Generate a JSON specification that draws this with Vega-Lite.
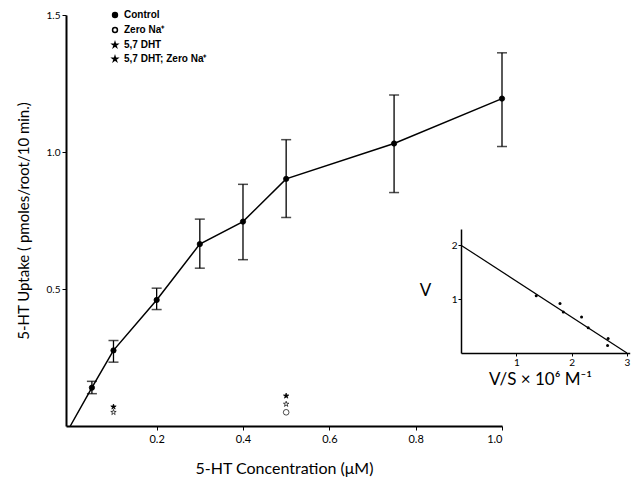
{
  "$schema": "https://vega.github.io/schema/vega-lite/v6.json",
  "width": 569,
  "height": 411,
  "autosize": {"type": "none"},
  "padding": {"left": 66, "top": 15, "right": 0, "bottom": 55},
  "background": "white",
  "config": {
    "view": {"stroke": null},
    "font": "Lato",
    "axis": {"labelFont": "Lato", "titleFont": "Lato", "domainColor": "black", "tickColor": "black", "labelColor": "black", "titleColor": "black", "grid": false, "titleFontWeight": "normal"}
  },
  "datasets": {
    "control": [
      {"conc": 0, "uptake": 0, "lo": null, "hi": null, "group": "Control"},
      {"conc": 0.05, "uptake": 0.14, "lo": 0.118, "hi": 0.163, "group": "Control"},
      {"conc": 0.1, "uptake": 0.276, "lo": 0.233, "hi": 0.312, "group": "Control"},
      {"conc": 0.2, "uptake": 0.46, "lo": 0.425, "hi": 0.503, "group": "Control"},
      {"conc": 0.3, "uptake": 0.664, "lo": 0.576, "hi": 0.755, "group": "Control"},
      {"conc": 0.4, "uptake": 0.746, "lo": 0.607, "hi": 0.882, "group": "Control"},
      {"conc": 0.5, "uptake": 0.902, "lo": 0.761, "hi": 1.045, "group": "Control"},
      {"conc": 0.75, "uptake": 1.031, "lo": 0.852, "hi": 1.208, "group": "Control"},
      {"conc": 1.0, "uptake": 1.195, "lo": 1.02, "hi": 1.362, "group": "Control"}
    ],
    "others": [
      {"conc": 0.1, "uptake": 0.07, "group": "5,7 DHT"},
      {"conc": 0.1, "uptake": 0.05, "group": "5,7 DHT; Zero Na⁺"},
      {"conc": 0.5, "uptake": 0.11, "group": "5,7 DHT"},
      {"conc": 0.5, "uptake": 0.08, "group": "5,7 DHT; Zero Na⁺"},
      {"conc": 0.5, "uptake": 0.05, "group": "Zero Na⁺"}
    ],
    "inset_pts": [
      {"vs": 1.36, "v": 1.06},
      {"vs": 1.79, "v": 0.92},
      {"vs": 1.85, "v": 0.76},
      {"vs": 2.18, "v": 0.67},
      {"vs": 2.3, "v": 0.47},
      {"vs": 2.66, "v": 0.27},
      {"vs": 2.65, "v": 0.14}
    ],
    "inset_fit": [
      {"vs": 0, "v": 2},
      {"vs": 3, "v": 0}
    ]
  },
  "layer": [
    {
      "layer": [
        {
          "data": {"name": "control"},
          "mark": {"type": "line", "color": "black", "strokeWidth": 1.5},
          "encoding": {
            "x": {"field": "conc", "type": "quantitative",
              "scale": {"domain": [-0.01, 1.0], "range": [0, 436], "nice": false, "zero": false},
              "axis": {"values": [0.2, 0.4, 0.6, 0.8, 1.0], "format": ".1f", "tickSize": 4, "labelFontSize": 11, "labelPadding": 3, "domainWidth": 2, "title": "5-HT Concentration (μM)", "titleFontSize": 16, "titlePadding": 16}},
            "y": {"field": "uptake", "type": "quantitative",
              "scale": {"domain": [0, 1.5], "nice": false},
              "axis": {"values": [0.5, 1.0, 1.5], "format": ".1f", "tickSize": 4, "labelFontSize": 10, "labelPadding": 2, "domainWidth": 2, "title": "5-HT Uptake ( pmoles/root/10 min.)", "titleFontSize": 15, "titlePadding": 15}}
          }
        },
        {
          "data": {"name": "control"},
          "transform": [{"filter": "isValid(datum.lo)"}],
          "mark": {"type": "rule", "color": "black", "strokeWidth": 1.3},
          "encoding": {
            "x": {"field": "conc", "type": "quantitative"},
            "y": {"field": "lo", "type": "quantitative"},
            "y2": {"field": "hi"}
          }
        },
        {
          "data": {"name": "control"},
          "transform": [{"filter": "isValid(datum.lo)"}],
          "mark": {"type": "tick", "orient": "horizontal", "color": "black", "size": 10, "thickness": 1.5},
          "encoding": {
            "x": {"field": "conc", "type": "quantitative"},
            "y": {"field": "lo", "type": "quantitative"}
          }
        },
        {
          "data": {"name": "control"},
          "transform": [{"filter": "isValid(datum.lo)"}],
          "mark": {"type": "tick", "orient": "horizontal", "color": "black", "size": 10, "thickness": 1.5},
          "encoding": {
            "x": {"field": "conc", "type": "quantitative"},
            "y": {"field": "hi", "type": "quantitative"}
          }
        },
        {
          "data": {"name": "control"},
          "transform": [{"filter": "datum.conc > 0"}],
          "mark": {"type": "point", "filled": true, "stroke": "black", "strokeWidth": 0.8, "size": 28, "opacity": 1},
          "encoding": {
            "x": {"field": "conc", "type": "quantitative"},
            "y": {"field": "uptake", "type": "quantitative"},
            "shape": {"field": "group", "type": "nominal",
              "scale": {"domain": ["Control", "Zero Na⁺", "5,7 DHT", "5,7 DHT; Zero Na⁺"],
                "range": ["circle", "circle", "M0,-1L0.2245,-0.309L0.951,-0.309L0.363,0.118L0.588,0.809L0,0.382L-0.588,0.809L-0.363,0.118L-0.951,-0.309L-0.2245,-0.309Z", "M0,-1L0.2245,-0.309L0.951,-0.309L0.363,0.118L0.588,0.809L0,0.382L-0.588,0.809L-0.363,0.118L-0.951,-0.309L-0.2245,-0.309Z"]},
              "legend": {"orient": "none", "legendX": 44, "legendY": -5, "title": null, "labelFont": "Liberation Sans", "labelFontWeight": "bold", "labelFontSize": 10, "symbolSize": 24, "rowPadding": 3, "padding": 0, "labelOffset": 4, "labelColor": "black",
                "encode": {"symbols": {"update": {"stroke": {"value": "black"}, "strokeWidth": {"value": 0.7}}}}}},
            "fill": {"field": "group", "type": "nominal",
              "scale": {"domain": ["Control", "Zero Na⁺", "5,7 DHT", "5,7 DHT; Zero Na⁺"], "range": ["black", "white", "black", "white"]},
              "legend": {"orient": "none", "legendX": 44, "legendY": -5, "title": null, "labelFont": "Liberation Sans", "labelFontWeight": "bold", "labelFontSize": 10, "symbolSize": 24, "rowPadding": 3, "padding": 0, "labelOffset": 4, "labelColor": "black",
                "encode": {"symbols": {"update": {"stroke": {"value": "black"}, "strokeWidth": {"value": 0.7}}}}}}
          }
        },
        {
          "data": {"name": "others"},
          "mark": {"type": "point", "filled": true, "stroke": "black", "strokeWidth": 0.7, "size": 32, "opacity": 1},
          "encoding": {
            "x": {"field": "conc", "type": "quantitative"},
            "y": {"field": "uptake", "type": "quantitative"},
            "shape": {"field": "group", "type": "nominal"},
            "fill": {"field": "group", "type": "nominal"}
          }
        }
      ]
    },
    {
      "layer": [
        {
          "data": {"name": "inset_fit"},
          "mark": {"type": "line", "color": "black", "strokeWidth": 1.2},
          "encoding": {
            "x": {"field": "vs", "type": "quantitative",
              "scale": {"domain": [0, 3.05], "range": [395, 563.7], "nice": false, "zero": false},
              "axis": {"orient": "bottom", "offset": -73, "values": [1, 2, 3], "format": "d", "tickSize": 3, "labelFontSize": 10, "labelPadding": 1, "domainWidth": 1.5, "title": "V/S  × 10⁶ M⁻¹", "titleFontSize": 17, "titlePadding": 4, "titleX": 474}},
            "y": {"field": "v", "type": "quantitative",
              "scale": {"domain": [0, 2.3], "range": [338, 214], "nice": false, "zero": false},
              "axis": {"orient": "left", "offset": -395, "values": [1, 2], "format": "d", "tickSize": 3, "labelFontSize": 10, "labelPadding": 1, "domainWidth": 1.5, "title": "V", "titleAngle": 0, "titleFontSize": 17, "titleX": -36, "titleY": 275, "titleAlign": "center", "titleBaseline": "middle"}}
          }
        },
        {
          "data": {"name": "inset_pts"},
          "mark": {"type": "point", "filled": true, "color": "black", "size": 9, "opacity": 1},
          "encoding": {
            "x": {"field": "vs", "type": "quantitative"},
            "y": {"field": "v", "type": "quantitative"}
          }
        }
      ]
    }
  ],
  "resolve": {"scale": {"x": "independent", "y": "independent"}, "axis": {"x": "independent", "y": "independent"}}
}
